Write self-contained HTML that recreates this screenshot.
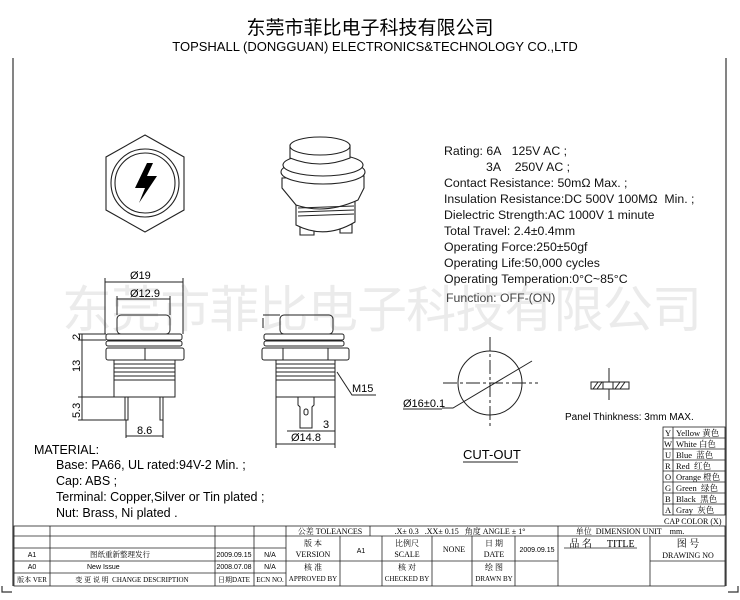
<!DOCTYPE html>
<html><head><meta charset="utf-8"><style>
body{margin:0;background:#fff}
svg{display:block;font-family:"Liberation Sans","Noto Sans CJK SC",sans-serif}
.s{font-family:"Liberation Serif","Noto Serif CJK SC",serif}
</style></head><body>
<svg width="740" height="600" viewBox="0 0 740 600" xmlns="http://www.w3.org/2000/svg">
<rect width="740" height="600" fill="#fff"/>
<text x="370" y="34" font-size="19" text-anchor="middle" font-family="Noto Sans CJK SC,sans-serif">东莞市菲比电子科技有限公司</text>
<text x="375" y="51" font-size="13" text-anchor="middle">TOPSHALL (DONGGUAN) ELECTRONICS&amp;TECHNOLOGY CO.,LTD</text>
<text x="62" y="327" font-size="50" fill="#ebebeb" font-family="Noto Sans CJK SC,sans-serif" textLength="640" lengthAdjust="spacing">东莞市菲比电子科技有限公司</text>
<g stroke="#333" fill="none" stroke-width="1.2">
<line x1="13" y1="58" x2="13" y2="586"/>
<line x1="726" y1="58" x2="726" y2="586"/>
<polyline points="2,586 2,592 12,592"/><polyline points="738,586 738,592 728,592"/>
</g>
<g stroke="#222" fill="none" stroke-width="1.1">
<polygon points="145,135 184,157 184,210 145,232 106,210 106,157"/>
<circle cx="145" cy="183" r="34"/><circle cx="145" cy="183" r="30"/>
</g>
<polygon points="147,163 135,188 145,188 139,203 157,176 147,176 153,163" fill="#000"/>
<g stroke="#222" fill="#fff" stroke-width="1.1">
<path d="M300,225 L300,235 L314,235 L314,225 Z M340,222 L340,233 L352,233 L352,222 Z"/>
<path d="M296,200 L296,225 Q325,240 355,222 L355,198 Z"/>
<path d="M282,178 L282,188 L296,205 Q325,215 358,200 L364,188 L364,176 Z"/>
<ellipse cx="323" cy="172" rx="42" ry="12"/>
<ellipse cx="323" cy="165" rx="40" ry="11"/>
<path d="M290,158 L290,145 L350,145 L350,158 Q320,170 290,158 Z"/>
<ellipse cx="320" cy="146" rx="30" ry="9"/>
<line x1="298" y1="208" x2="354" y2="206"/><line x1="298" y1="212" x2="354" y2="210"/><line x1="298" y1="216" x2="354" y2="214"/>
</g>
<g stroke="#222" fill="none" stroke-width="1">
<rect x="117" y="315" width="53" height="19" rx="4"/>
<rect x="106" y="334" width="76" height="6" rx="2"/>
<rect x="106" y="341" width="76" height="5" rx="2"/>
<rect x="106" y="348" width="78" height="12" rx="2"/>
<line x1="145" y1="348" x2="145" y2="360"/>
<rect x="114" y="360" width="61" height="20"/>
<line x1="114" y1="364" x2="175" y2="364"/><line x1="114" y1="368" x2="175" y2="368"/><line x1="114" y1="372" x2="175" y2="372"/><line x1="114" y1="376" x2="175" y2="376"/>
<rect x="114" y="380" width="61" height="17"/>
<rect x="125" y="397" width="3" height="23"/><rect x="160" y="397" width="3" height="23"/>
<line x1="105" y1="282" x2="183" y2="282"/><line x1="105" y1="278" x2="105" y2="334"/><line x1="183" y1="278" x2="183" y2="334"/>
<line x1="117" y1="299" x2="170" y2="299"/><line x1="117" y1="296" x2="117" y2="315"/><line x1="170" y1="296" x2="170" y2="315"/>
<line x1="82" y1="334" x2="82" y2="420"/>
<line x1="78" y1="334" x2="106" y2="334"/><line x1="78" y1="340" x2="106" y2="340"/><line x1="78" y1="397" x2="114" y2="397"/><line x1="78" y1="420" x2="125" y2="420"/>
<line x1="126" y1="436" x2="163" y2="436"/><line x1="126" y1="420" x2="126" y2="438"/><line x1="163" y1="420" x2="163" y2="438"/>
</g>
<g font-size="11">
<text x="130" y="279">Ø19</text><text x="130" y="297">Ø12.9</text>
<text x="137" y="434">8.6</text>
<text transform="translate(80,340) rotate(-90)">2</text>
<text transform="translate(80,372) rotate(-90)">13</text>
<text transform="translate(80,418) rotate(-90)">5.3</text>
</g>
<g stroke="#222" fill="none" stroke-width="1">
<rect x="280" y="315" width="53" height="19" rx="4"/>
<rect x="264" y="334" width="80" height="6" rx="2"/>
<rect x="264" y="341" width="80" height="5" rx="2"/>
<rect x="262" y="348" width="87" height="12" rx="2"/>
<line x1="283" y1="348" x2="283" y2="360"/><line x1="328" y1="348" x2="328" y2="360"/>
<rect x="276" y="360" width="59" height="20"/>
<line x1="276" y1="364" x2="335" y2="364"/><line x1="276" y1="368" x2="335" y2="368"/><line x1="276" y1="372" x2="335" y2="372"/><line x1="276" y1="376" x2="335" y2="376"/>
<rect x="276" y="380" width="59" height="17"/>
<path d="M298,397 L298,405 L300,407 L300,428 L312,428 L312,407 L314,405 L314,397"/>
<rect x="304" y="409" width="4" height="6" rx="2"/>
<line x1="263" y1="318" x2="263" y2="328"/><line x1="263" y1="315" x2="280" y2="315"/>
<line x1="276" y1="397" x2="276" y2="448"/><line x1="335" y1="397" x2="335" y2="448"/>
<line x1="276" y1="444" x2="335" y2="444"/>
<line x1="287" y1="431" x2="335" y2="431"/>
<polyline points="337,372 352,395 376,395"/>
</g>
<g font-size="11"><text x="291" y="441">Ø14.8</text><text x="323" y="428">3</text><text x="352" y="392">M15</text></g>
<g font-size="12.3" fill="#111">
<text x="444" y="155">Rating: 6A&#160;&#160;&#160;125V AC ;</text>
<text x="486" y="171">3A&#160;&#160;&#160;&#160;250V AC ;</text>
<text x="444" y="187">Contact Resistance: 50mΩ Max. ;</text>
<text x="444" y="203">Insulation Resistance:DC 500V 100MΩ&#160;&#160;Min. ;</text>
<text x="444" y="219">Dielectric Strength:AC 1000V 1 minute</text>
<text x="444" y="235">Total Travel: 2.4±0.4mm</text>
<text x="444" y="251">Operating Force:250±50gf</text>
<text x="444" y="267">Operating Life:50,000 cycles</text>
<text x="444" y="283">Operating Temperation:0°C~85°C</text>
<text x="446" y="302" fill="#444">Function: OFF-(ON)</text>
</g>
<g stroke="#222" fill="none" stroke-width="1">
<circle cx="490" cy="383" r="32"/>
<line x1="490" y1="337" x2="490" y2="428" stroke-dasharray="14,3,3,3"/>
<line x1="443" y1="383" x2="538" y2="383" stroke-dasharray="14,3,3,3"/>
<polyline points="442,408 453,408 532,361"/>
<line x1="403" y1="409" x2="442" y2="409"/>
<line x1="463" y1="462" x2="518" y2="462"/>
<rect x="591" y="382" width="38" height="7"/><rect x="603" y="382" width="10" height="7" fill="#fff"/>
<line x1="609" y1="368" x2="609" y2="382"/><line x1="609" y1="389" x2="609" y2="400"/>
<path d="M593,389 L598,382 M597,389 L602,382 M615,389 L620,382 M620,389 L625,382"/>
</g>
<text x="403" y="407" font-size="11">Ø16±0.1</text>
<text x="463" y="459" font-size="13">CUT-OUT</text>
<text x="565" y="420" font-size="10">Panel Thinkness: 3mm MAX.</text>
<g font-size="12.5">
<text x="34" y="454">MATERIAL:</text>
<text x="56" y="469">Base: PA66, UL rated:94V-2 Min. ;</text>
<text x="56" y="485">Cap: ABS ;</text>
<text x="56" y="501">Terminal: Copper,Silver or Tin plated ;</text>
<text x="56" y="517">Nut: Brass, Ni plated .</text>
</g>
<g stroke="#222" fill="none" stroke-width="0.8">
<rect x="663" y="427" width="62" height="88"/>
<line x1="673" y1="427" x2="673" y2="515"/>
<line x1="663" y1="438" x2="725" y2="438"/><line x1="663" y1="449" x2="725" y2="449"/><line x1="663" y1="460" x2="725" y2="460"/><line x1="663" y1="471" x2="725" y2="471"/><line x1="663" y1="482" x2="725" y2="482"/><line x1="663" y1="493" x2="725" y2="493"/><line x1="663" y1="504" x2="725" y2="504"/>
</g>
<g class="s" font-size="8.5">
<text x="665" y="436">Y</text><text x="676" y="436">Yellow 黄色</text>
<text x="664" y="447">W</text><text x="676" y="447">White 白色</text>
<text x="665" y="458">U</text><text x="676" y="458">Blue&#160;&#160;蓝色</text>
<text x="665" y="469">R</text><text x="676" y="469">Red&#160;&#160;红色</text>
<text x="665" y="480">O</text><text x="676" y="480">Orange 橙色</text>
<text x="665" y="491">G</text><text x="676" y="491">Green&#160;&#160;绿色</text>
<text x="665" y="502">B</text><text x="676" y="502">Black&#160;&#160;黑色</text>
<text x="665" y="513">A</text><text x="676" y="513">Gray&#160;&#160;灰色</text>
<text x="664" y="524" font-size="8">CAP COLOR (X)</text>
</g>
<g stroke="#222" fill="none" stroke-width="0.8">
<rect x="14" y="526" width="711" height="60"/>
<line x1="14" y1="536" x2="725" y2="536"/>
<line x1="14" y1="548" x2="286" y2="548"/>
<line x1="14" y1="561" x2="558" y2="561"/><line x1="650" y1="561" x2="725" y2="561"/>
<line x1="14" y1="573" x2="286" y2="573"/>
<line x1="50" y1="526" x2="50" y2="586"/>
<line x1="215" y1="526" x2="215" y2="586"/>
<line x1="254" y1="526" x2="254" y2="586"/>
<line x1="286" y1="526" x2="286" y2="586"/>
<line x1="370" y1="526" x2="370" y2="536"/>
<line x1="340" y1="536" x2="340" y2="586"/>
<line x1="382" y1="536" x2="382" y2="586"/>
<line x1="432" y1="536" x2="432" y2="586"/>
<line x1="472" y1="536" x2="472" y2="586"/>
<line x1="515" y1="536" x2="515" y2="586"/>
<line x1="558" y1="526" x2="558" y2="586"/>
<line x1="650" y1="536" x2="650" y2="586"/>
<line x1="564" y1="548" x2="637" y2="548"/>
</g>
<g class="s" font-size="8" text-anchor="middle">
<text x="330" y="534">公差 TOLEANCES</text>
<text x="460" y="534">.X± 0.3&#160;&#160;&#160;.XX± 0.15&#160;&#160;&#160;角度 ANGLE ± 1°</text>
<text x="630" y="534">单位&#160;&#160;DIMENSION UNIT&#160;&#160;&#160;&#160;mm.</text>
<text x="313" y="546">版 本</text><text x="313" y="557">VERSION</text>
<text x="407" y="546">比例尺</text><text x="407" y="557">SCALE</text>
<text x="494" y="546">日 期</text><text x="494" y="557">DATE</text>
<text x="454" y="552">NONE</text>
<text x="602" y="547" font-size="10">品 名&#160;&#160;&#160;&#160;&#160;&#160;TITLE</text>
<text x="688" y="547" font-size="10">图 号</text><text x="688" y="558">DRAWING NO</text>
<text x="313" y="570">核 准</text><text x="313" y="581" font-size="7">APPROVED BY</text>
<text x="407" y="570">核 对</text><text x="407" y="581" font-size="7">CHECKED BY</text>
<text x="494" y="570">绘 图</text><text x="494" y="581" font-size="7">DRAWN BY</text>
<text x="32" y="582" font-size="7">版本 VER</text>
<text x="132" y="582" font-size="7">变 更 说 明&#160;&#160;CHANGE DESCRIPTION</text>
<text x="234" y="582" font-size="7">日期DATE</text>
<text x="270" y="582" font-size="7">ECN NO.</text>
<text x="120" y="557" font-size="7.5">图纸重新整理发行</text>
</g>
<g font-size="7" text-anchor="middle">
<text x="32" y="557">A1</text><text x="32" y="569">A0</text>
<text x="87" y="569" text-anchor="start">New Issue</text>
<text x="234" y="557">2009.09.15</text><text x="234" y="569">2008.07.08</text>
<text x="270" y="557">N/A</text><text x="270" y="569">N/A</text>
<text x="361" y="553">A1</text>
<text x="537" y="552">2009.09.15</text>
</g>
</svg>
</body></html>
